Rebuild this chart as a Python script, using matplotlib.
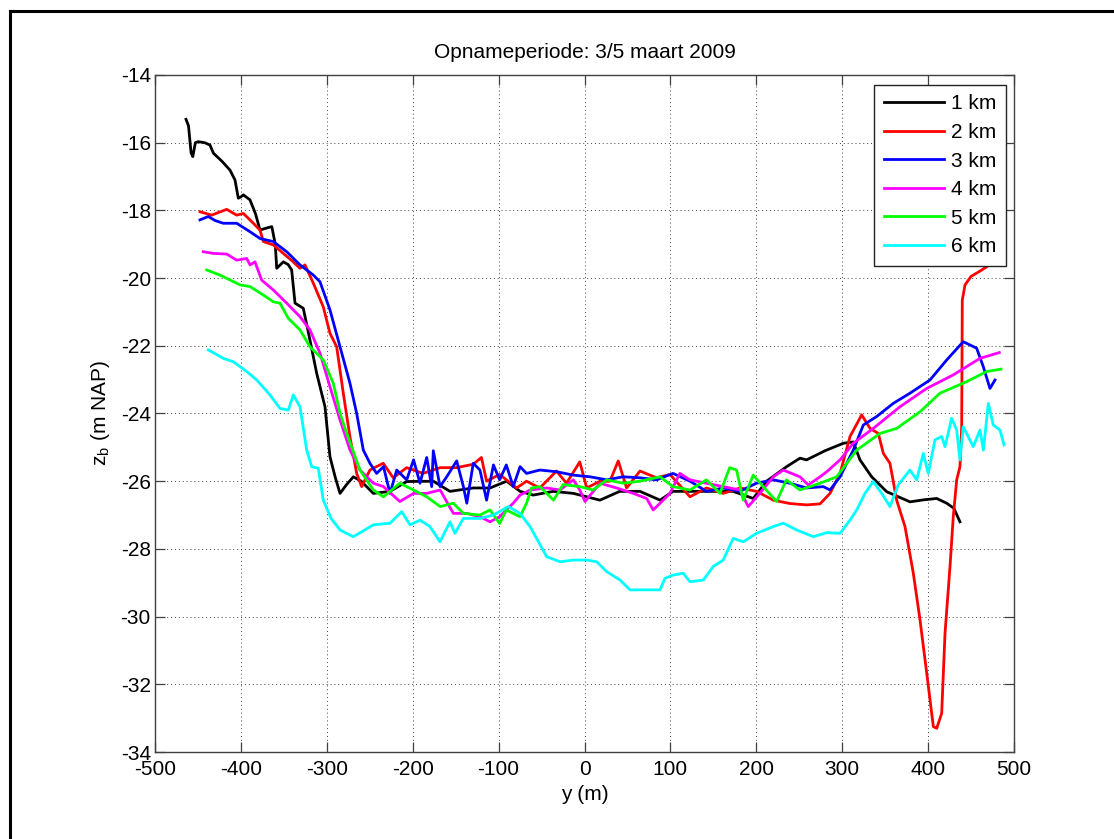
import matplotlib
matplotlib.use("Agg")
import matplotlib.pyplot as plt
from matplotlib.lines import Line2D

plt.rcParams['font.family'] = ['Liberation Sans', 'DejaVu Sans']
plt.rcParams['axes.unicode_minus'] = False

labels = ['1 km', '2 km', '3 km', '4 km', '5 km', '6 km']
colors = ['#000000', '#FF0000', '#0000FF', '#FF00FF', '#00FF00', '#00FFFF']

x1 = [-463.9, -461, -458, -456, -453, -449.6, -442, -436, -432, -422, -412.7, -406.9, -403, -400, -397.2,
      -389.4, -383, -377.8, -370, -364, -360, -358.3, -350.6, -345, -340.9, -337, -327.4, -319.6, -311.8,
      -302.1, -296.3, -290, -284.6, -277, -269.1, -260, -245.8, -226.4, -207, -176, -156.6, -129.5, -110,
      -90.6, -75, -59.6, -36.3, -13, 18, 41, 64.6, 88, 103, 142, 173, 196.4, 212, 235.3, 250.9, 258.6, 280,
      301.3, 312.9, 320.7, 334.3, 351.8, 378.9, 395, 410, 421.6, 430, 437.1]
z1 = [-15.31, -15.5, -16.3, -16.41, -16.0, -15.97, -16.0, -16.07, -16.31, -16.55, -16.81, -17.10, -17.64,
      -17.6, -17.54, -17.69, -18.1, -18.58, -18.52, -18.48, -19.0, -19.71, -19.52, -19.6, -19.76, -20.74,
      -20.89, -21.83, -22.81, -23.80, -25.28, -25.9, -26.36, -26.1, -25.87, -26.0, -26.36, -26.3, -26.01,
      -26.0, -26.3, -26.2, -26.2, -26.0, -26.3, -26.41, -26.3, -26.36, -26.56, -26.3, -26.3, -26.56, -26.3,
      -26.3, -26.3, -26.51, -26.0, -25.57, -25.32, -25.37, -25.1, -24.88, -24.84, -25.37, -25.87, -26.31,
      -26.61, -26.55, -26.51, -26.65, -26.8, -27.20]

x2 = [-447.6, -434, -425, -416.5, -404.9, -397.2, -389.4, -377.8, -373.9, -362.3, -350.6, -340, -331.2,
      -325.4, -315.7, -304.1, -296.3, -288.5, -280.8, -273, -265.2, -259.4, -249.8, -234.3, -222.7, -207,
      -188, -168, -149, -129.5, -120, -114, -98.8, -79, -67.5, -52, -32.6, -21, -5.5, 2.6, 18, 29.6, 39.3,
      49, 64.6, 84, 99.5, 122.8, 142, 161.5, 181, 200.3, 219.8, 239.2, 258.6, 274.2, 285.8, 297.5, 309.1,
      322.7, 332.4, 342.1, 347.9, 355.6, 363.4, 373.1, 382.8, 390.6, 398.4, 406.1, 410, 415.8, 419.7, 425.5,
      429.3, 433.3, 437.1, 439.1, 439.8, 443, 450, 460, 469.7]
z2 = [-18.04, -18.14, -18.05, -17.97, -18.14, -18.09, -18.28, -18.58, -18.92, -19.02, -19.27, -19.5, -19.71,
      -19.61, -20.15, -20.85, -21.63, -22.03, -23.40, -24.7, -25.77, -26.16, -25.67, -25.47, -25.9, -25.6,
      -25.77, -25.6, -25.6, -25.5, -25.3, -26.0, -25.8, -26.2, -26.0, -26.2, -25.7, -26.06, -25.43, -26.2,
      -26.0, -26.0, -25.4, -26.2, -25.7, -25.9, -25.8, -26.46, -26.2, -26.36, -26.2, -26.3, -26.56, -26.66,
      -26.7, -26.67, -26.36, -25.77, -24.68, -24.04, -24.44, -24.59, -25.18, -25.47, -26.56, -27.34, -28.72,
      -30.10, -31.67, -33.25, -33.30, -32.86, -30.49, -28.52, -27.05, -25.96, -25.57, -24.39, -20.65, -20.2,
      -19.95, -19.8, -19.64]

x3 = [-447.6, -438, -430, -420.5, -404.9, -389.4, -377.8, -362.3, -346.7, -331.2, -315.7, -307.9, -296.3,
      -284.6, -273, -265.2, -257.5, -249.8, -242, -234, -226.4, -218.6, -207, -199, -191.5, -183.7, -177.9,
      -176, -168.2, -160.4, -148.8, -141, -137, -129.5, -121.7, -114, -106, -98.8, -91, -83, -75, -67.5,
      -52, -32.6, -13, 6.5, 25.8, 45, 64.6, 84, 103, 122.8, 142, 161.5, 181, 200, 219.8, 239, 258.6, 278,
      285.8, 297.5, 312.9, 324.6, 340.1, 359.5, 378.9, 402.2, 421.6, 440.9, 456.5, 464.3, 472.0, 477.9]
z3 = [-18.28, -18.18, -18.3, -18.38, -18.38, -18.63, -18.83, -18.92, -19.22, -19.61, -19.91, -20.11, -20.94,
      -22.03, -23.11, -24.0, -25.08, -25.47, -25.77, -25.57, -26.36, -25.67, -25.96, -25.37, -26.06, -25.3,
      -26.16, -25.1, -26.16, -25.87, -25.4, -26.16, -26.65, -25.47, -25.67, -26.56, -25.52, -25.96, -25.52,
      -26.16, -25.57, -25.77, -25.67, -25.72, -25.82, -25.87, -25.96, -25.87, -25.9, -25.96, -25.77, -26.0,
      -26.3, -26.2, -26.3, -26.06, -25.96, -26.06, -26.2, -26.16, -26.26, -25.87, -25.08, -24.34, -24.09,
      -23.70, -23.40, -23.01, -22.42, -21.88, -22.07, -22.62, -23.26, -23.01]

x4 = [-443.8, -432.1, -416.5, -404.9, -393.2, -389.4, -383.6, -375.8, -362.3, -346.7, -331.2, -319.6, -307.9,
      -296.3, -284.6, -273, -261.4, -245.8, -234, -215, -199, -183.7, -168, -152.7, -137, -121.7, -110,
      -98.8, -83, -75, -63.4, -44, -28.5, -13, -5.5, 0.6, 18, 37.4, 56.8, 72.4, 80, 88, 99.5, 111, 122.8,
      142, 161.5, 181, 190.6, 204, 219.8, 231.4, 250.8, 260.5, 274.2, 282, 297.5, 312.9, 336.2, 367.3,
      398.4, 429.3, 460.4, 482.9]
z4 = [-19.22, -19.27, -19.29, -19.47, -19.42, -19.61, -19.52, -20.06, -20.35, -20.74, -21.14, -21.53, -22.22,
      -23.21, -24.19, -25.08, -25.67, -26.06, -26.16, -26.6, -26.36, -26.36, -26.26, -26.95, -26.95, -27.05,
      -27.2, -27.05, -26.65, -26.41, -26.26, -26.2, -26.26, -25.96, -26.26, -26.6, -26.06, -26.2, -26.36,
      -26.51, -26.85, -26.65, -26.36, -25.77, -25.96, -26.06, -26.16, -26.26, -26.75, -26.36, -25.87, -25.67,
      -25.87, -26.11, -25.87, -25.72, -25.37, -24.88, -24.44, -23.80, -23.26, -22.86, -22.37, -22.20]

x5 = [-439.8, -424.3, -401, -389.4, -373.9, -362.3, -354.5, -344.8, -331.2, -319.6, -304.1, -292.4, -284.6,
      -278, -261.4, -245.8, -234, -215, -199, -183.7, -168, -152.7, -141, -121.7, -110, -98.8, -91, -75,
      -67.5, -61.6, -52, -36, -25, -5.5, 10, 25.8, 45, 64.6, 88, 103, 122.8, 142, 157.7, 169, 177, 184.8,
      196.4, 208, 223.7, 235, 250.8, 274.2, 293.6, 316.9, 344.0, 363.4, 390.6, 413.9, 444.9, 468.2, 484.9]
z5 = [-19.76, -19.91, -20.20, -20.25, -20.50, -20.70, -20.74, -21.19, -21.53, -22.03, -22.42, -23.11, -23.99,
      -24.5, -25.67, -26.26, -26.46, -26.06, -26.26, -26.46, -26.75, -26.65, -26.95, -27.0, -26.85, -27.25,
      -26.85, -27.05, -26.65, -26.2, -26.16, -26.56, -26.1, -26.16, -26.26, -25.96, -26.06, -26.0, -25.87,
      -26.16, -26.26, -25.96, -26.36, -25.6, -25.67, -26.56, -25.82, -26.16, -26.6, -25.96, -26.26, -26.06,
      -25.87, -25.08, -24.59, -24.44, -23.95, -23.40, -23.06, -22.76, -22.69]

x6 = [-438, -420.5, -408.9, -393.2, -381.6, -366.1, -354.5, -344.8, -339, -331.2, -323.4, -317.6, -309.9,
      -304.1, -295, -284.6, -269.1, -245.8, -226.4, -212.8, -203.1, -191.5, -179.9, -168.2, -156.6, -150.8,
      -141.1, -121.7, -106.2, -88.7, -75.1, -63.4, -44.0, -28.5, -13, 2.6, 14.2, 25.8, 41.3, 53, 72.4, 87.9,
      93.7, 103.4, 115, 122.8, 138.3, 149.9, 161.5, 173.1, 184.8, 200.3, 219.8, 231.4, 246.9, 266.4, 281.9,
      297.5, 309.1, 316.9, 326.5, 336.2, 346.0, 355.6, 365.3, 378.9, 386.7, 394.4, 400.2, 408.0, 415.8,
      419.7, 427.4, 433.3, 437.1, 440.9, 452.6, 460.4, 464.3, 470.1, 475.9, 483.7, 488.4]
z6 = [-22.12, -22.37, -22.47, -22.76, -23.01, -23.45, -23.85, -23.90, -23.45, -23.80, -25.08, -25.57, -25.62,
      -26.56, -27.1, -27.44, -27.64, -27.29, -27.24, -26.9, -27.29, -27.15, -27.34, -27.79, -27.20, -27.54,
      -27.10, -27.10, -27.0, -26.75, -26.95, -27.34, -28.23, -28.38, -28.33, -28.33, -28.38, -28.67, -28.92,
      -29.21, -29.21, -29.21, -28.87, -28.77, -28.72, -28.97, -28.92, -28.52, -28.33, -27.69, -27.79, -27.54,
      -27.34, -27.24, -27.44, -27.64, -27.52, -27.54, -27.15, -26.85, -26.36, -26.01, -26.36, -26.75, -26.11,
      -25.67, -25.96, -25.18, -25.77, -24.78, -24.68, -24.98, -24.14, -24.49, -25.37, -24.39, -24.98, -24.49,
      -25.08, -23.70, -24.34, -24.49, -24.93]

xs = [x1, x2, x3, x4, x5, x6]
zs = [z1, z2, z3, z4, z5, z6]

xticks = list(range(-500, 501, 100))
yticks = list(range(-34, -13, 2))

W, H = 1114, 839
fig = plt.figure(figsize=(W / 100, H / 100), dpi=100)
fig.patch.set_facecolor('white')
ax = fig.add_axes([155 / W, 1 - 752 / H, (1014 - 155) / W, (752 - 75) / H])

for x, z, c, lab in zip(xs, zs, colors, labels):
    ax.plot(x, z, color=c, lw=2.0, label=lab, solid_joinstyle='round')

ax.set_xlim(-500, 500)
ax.set_ylim(-34, -14)
ax.set_xticks(xticks)
ax.set_yticks(yticks)
ax.tick_params(direction='in', length=7, width=0.9, color='#404040', labelsize=15,
               top=True, right=True, pad=6)
ax.tick_params(axis='y', pad=3)
for s in ax.spines.values():
    s.set_color('#404040')
    s.set_linewidth(1.0)
ax.grid(True, color='#444444', linestyle=(0, (1, 3)), linewidth=0.7)

ax.set_title('Opnameperiode: 3/5 maart 2009', fontsize=15, pad=12)
ax.set_xlabel('y (m)', fontsize=15, labelpad=4)
ax.set_ylabel(r'z$_\mathregular{b}$ (m NAP)', fontsize=15, labelpad=6)

leg = ax.legend(loc='upper right', bbox_to_anchor=((1006 - 155) / 859, (752 - 85) / 677),
                borderaxespad=0, fancybox=False, framealpha=1, edgecolor='#222222',
                fontsize=15, handlelength=2.9, labelspacing=0.46, handletextpad=0.35,
                borderpad=0.45)
leg.get_frame().set_linewidth(1.0)

# outer frame lines (top and left)
fig.add_artist(Line2D([10 / W, 1.0], [1 - 11 / H, 1 - 11 / H], color='black', lw=2.2,
                      transform=fig.transFigure))
fig.add_artist(Line2D([10 / W, 10 / W], [0.0, 1 - 11 / H], color='black', lw=2.2,
                      transform=fig.transFigure))

fig.savefig('out.png', dpi=100, facecolor='white')
